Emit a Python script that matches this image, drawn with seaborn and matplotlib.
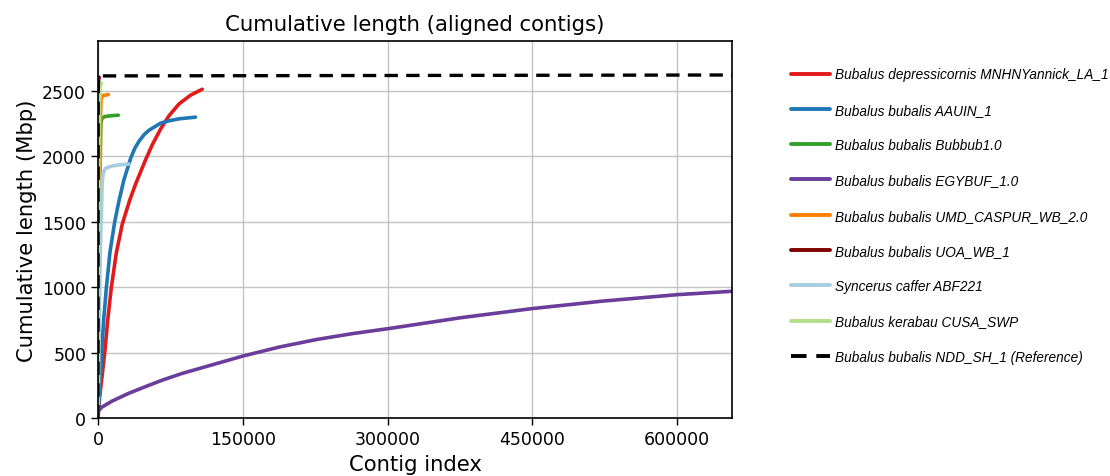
import matplotlib
matplotlib.use("Agg")
import matplotlib.pyplot as plt
from matplotlib import font_manager
import seaborn as sns
import pandas as pd

# ---- data (contig index, cumulative Mbp) ----
labels = [
    "Bubalus depressicornis MNHNYannick_LA_1",
    "Bubalus bubalis AAUIN_1",
    "Bubalus bubalis Bubbub1.0",
    "Bubalus bubalis EGYBUF_1.0",
    "Bubalus bubalis UMD_CASPUR_WB_2.0",
    "Bubalus bubalis UOA_WB_1",
    "Syncerus caffer ABF221",
    "Bubalus kerabau CUSA_SWP",
]
ref_label = "Bubalus bubalis NDD_SH_1 (Reference)"

red_x = [0, 1500, 4500, 7200, 10000, 13800, 19000, 25200, 32800, 39000, 49300, 56300, 64900, 73500, 83800, 95900, 108000]
red_y = [0, 150, 340, 520, 745, 1000, 1265, 1485, 1665, 1790, 1975, 2090, 2210, 2310, 2400, 2468, 2513]

blue_x = [0, 2400, 3800, 5900, 8700, 12400, 17300, 21700, 26900, 33800, 38000, 42400, 47600, 52800, 64900, 73500, 83800, 101000]
blue_y = [0, 300, 500, 756, 1000, 1270, 1500, 1660, 1823, 1985, 2060, 2115, 2165, 2200, 2254, 2272, 2287, 2300]

green_x = [0, 800, 1800, 2600, 3000, 4000, 7000, 14000, 21000]
green_y = [0, 1000, 1700, 2150, 2250, 2290, 2305, 2311, 2315]

purple_x = [0, 4000, 14500, 31900, 49200, 66500, 87300, 111500, 150000, 187800, 225900, 264000,
            302000, 375800, 450000, 523000, 600000, 657000]
purple_y = [55, 85, 131, 191, 242, 291, 343, 394, 475, 544, 601, 647,
            686, 768, 838, 895, 944, 970]

orange_x = [0, 800, 1800, 2500, 2800, 3200, 5000, 10700]
orange_y = [0, 1000, 1700, 2100, 2350, 2440, 2465, 2472]

darkred_x = [0, 30, 100, 400, 1200]
darkred_y = [0, 1500, 2400, 2580, 2605]

lightblue_x = [0, 1000, 2000, 3000, 3800, 4300, 5500, 8000, 15000, 25000, 32000]
lightblue_y = [0, 600, 1100, 1450, 1650, 1800, 1880, 1910, 1928, 1938, 1942]

lightgreen_x = [0, 300, 800, 1500, 2500, 3500]
lightgreen_y = [0, 1200, 2000, 2400, 2540, 2560]

ref_x = [0, 50, 200, 600, 657000]
ref_y = [0, 1500, 2500, 2615, 2622]

xticks = [0, 150000, 300000, 450000, 600000]
yticks = [0, 500, 1000, 1500, 2000, 2500]

colors = ["#E31A1C", "#1F78B4", "#33A02C", "#6A3D9A", "#FF7F00", "#800000", "#A6CEE3", "#B2DF8A"]
series = [
    (red_x, red_y), (blue_x, blue_y), (green_x, green_y), (purple_x, purple_y),
    (orange_x, orange_y), (darkred_x, darkred_y), (lightblue_x, lightblue_y),
    (lightgreen_x, lightgreen_y),
]

sns.set_style("ticks")
plt.rcParams['font.family'] = ['DejaVu Sans']
plt.rcParams.update({"text.color": "black", "axes.labelcolor": "black",
                     "xtick.color": "black", "ytick.color": "black"})

# legend font: regular-width Liberation Sans Italic (avoid the Narrow variant)
leg_font = None
for f in font_manager.fontManager.ttflist:
    if (f.name == "Liberation Sans" and f.style == "italic"
            and "narrow" not in f.fname.lower() and "bold" not in f.fname.lower()):
        leg_font = font_manager.FontProperties(fname=f.fname, size=9.8)
        break
if leg_font is None:
    leg_font = font_manager.FontProperties(family="DejaVu Sans", style="oblique", size=9.0)

fig = plt.figure(figsize=(11.1, 4.77), dpi=100)
ax = fig.add_axes([0.0883, 0.121, 0.5712, 0.7916])

for (xs, ys), c, lab in zip(series, colors, labels):
    df = pd.DataFrame({"x": xs, "y": ys})
    sns.lineplot(data=df, x="x", y="y", ax=ax, color=c, lw=2.6, label=lab,
                 sort=False, estimator=None)
dfr = pd.DataFrame({"x": ref_x, "y": ref_y})
sns.lineplot(data=dfr, x="x", y="y", ax=ax, color="black", lw=2.4, label=ref_label,
             sort=False, estimator=None, linestyle=(0, (4, 2.5)))

ax.set_xlim(0, 657000)
ax.set_ylim(0, 2884)
ax.set_xticks(xticks)
ax.set_xticklabels([str(v) for v in xticks])
ax.set_yticks(yticks)
ax.tick_params(axis="both", labelsize=12.5, length=5, width=1, color="black", direction="out")
ax.grid(True, color="#c4c4c4", linewidth=1)
ax.set_axisbelow(True)
for s in ax.spines.values():
    s.set_color("black")
    s.set_linewidth(1.2)
ax.set_xlabel("Contig index", fontsize=15.2)
ax.set_ylabel("Cumulative length (Mbp)", fontsize=15.2)
ax.set_title("Cumulative length (aligned contigs)", fontsize=15.3, pad=8)

leg = ax.legend(loc="upper left", bbox_to_anchor=(1.084, 0.944), frameon=False,
                prop=leg_font, handlelength=2.85, labelspacing=1.566,
                handletextpad=0.42, borderaxespad=0)
for line in leg.get_lines():
    line.set_linewidth(2.8)

fig.savefig("out.png", dpi=100)
